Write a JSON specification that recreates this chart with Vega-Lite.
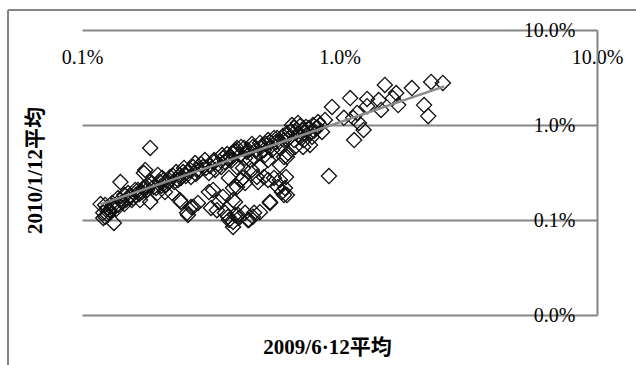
{
  "$schema": "https://vega.github.io/schema/vega-lite/v6.json",
  "autosize": {"type": "none"},
  "padding": {"left": 82, "top": 30, "right": 39, "bottom": 50},
  "width": 515,
  "height": 285,
  "background": "white",
  "config": {"view": {"stroke": null}},
  "datasets": {
    "pts": [
      {"avg2009": 0.0252, "avg2010": 0.0277}, {"avg2009": 0.0227, "avg2010": 0.0284}, {"avg2009": 0.0191, "avg2010": 0.0245},
      {"avg2009": 0.0150, "avg2010": 0.0264}, {"avg2009": 0.0166, "avg2010": 0.0217}, {"avg2009": 0.0161, "avg2010": 0.0192},
      {"avg2009": 0.0142, "avg2010": 0.0183}, {"avg2009": 0.0128, "avg2010": 0.0188}, {"avg2009": 0.0110, "avg2010": 0.0192},
      {"avg2009": 0.00935, "avg2010": 0.0155}, {"avg2009": 0.0213, "avg2010": 0.0162}, {"avg2009": 0.0221, "avg2010": 0.0124},
      {"avg2009": 0.0169, "avg2010": 0.0162}, {"avg2009": 0.0145, "avg2010": 0.0144}, {"avg2009": 0.0128, "avg2010": 0.0158},
      {"avg2009": 0.0104, "avg2010": 0.0119}, {"avg2009": 0.0117, "avg2010": 0.0134}, {"avg2009": 0.0113, "avg2010": 0.0119},
      {"avg2009": 0.0119, "avg2010": 0.0105}, {"avg2009": 0.0124, "avg2010": 0.00886}, {"avg2009": 0.0114, "avg2010": 0.00695},
      {"avg2009": 0.00910, "avg2010": 0.00290},
      {"avg2009": 0.00840, "avg2010": 0.0100}, {"avg2009": 0.00811, "avg2010": 0.00930}, {"avg2009": 0.00768, "avg2010": 0.00824},
      {"avg2009": 0.00715, "avg2010": 0.00886}, {"avg2009": 0.00654, "avg2010": 0.0100}, {"avg2009": 0.00690, "avg2010": 0.0105},
      {"avg2009": 0.00642, "avg2010": 0.00844}, {"avg2009": 0.00703, "avg2010": 0.00748}, {"avg2009": 0.00768, "avg2010": 0.00616},
      {"avg2009": 0.00672, "avg2010": 0.00587}, {"avg2009": 0.00609, "avg2010": 0.00695}, {"avg2009": 0.00587, "avg2010": 0.00573},
      {"avg2009": 0.00631, "avg2010": 0.00507}, {"avg2009": 0.00728, "avg2010": 0.00695}, {"avg2009": 0.00878, "avg2010": 0.0113},
      {"avg2009": 0.00855, "avg2010": 0.00844}, {"avg2009": 0.00782, "avg2010": 0.00748}, {"avg2009": 0.00741, "avg2010": 0.00953},
      {"avg2009": 0.00672, "avg2010": 0.00844},
      {"avg2009": 0.00567, "avg2010": 0.00662}, {"avg2009": 0.00537, "avg2010": 0.00587}, {"avg2009": 0.00509, "avg2010": 0.00546},
      {"avg2009": 0.00491, "avg2010": 0.00507}, {"avg2009": 0.00466, "avg2010": 0.00460}, {"avg2009": 0.00430, "avg2010": 0.00449},
      {"avg2009": 0.00415, "avg2010": 0.00587}, {"avg2009": 0.00393, "avg2010": 0.00520}, {"avg2009": 0.00379, "avg2010": 0.00460},
      {"avg2009": 0.00359, "avg2010": 0.00408}, {"avg2009": 0.00347, "avg2010": 0.00361}, {"avg2009": 0.00329, "avg2010": 0.00336},
      {"avg2009": 0.00311, "avg2010": 0.00312}, {"avg2009": 0.00295, "avg2010": 0.00361}, {"avg2009": 0.00275, "avg2010": 0.00398},
      {"avg2009": 0.00280, "avg2010": 0.00336}, {"avg2009": 0.00265, "avg2010": 0.00284}, {"avg2009": 0.00256, "avg2010": 0.00320},
      {"avg2009": 0.00242, "avg2010": 0.00277}, {"avg2009": 0.00228, "avg2010": 0.00251}, {"avg2009": 0.00220, "avg2010": 0.00284},
      {"avg2009": 0.00212, "avg2010": 0.00234}, {"avg2009": 0.00201, "avg2010": 0.00251}, {"avg2009": 0.00190, "avg2010": 0.00223},
      {"avg2009": 0.00184, "avg2010": 0.00573}, {"avg2009": 0.00174, "avg2010": 0.00312}, {"avg2009": 0.00180, "avg2010": 0.00234},
      {"avg2009": 0.00171, "avg2010": 0.00197}, {"avg2009": 0.00162, "avg2010": 0.00183}, {"avg2009": 0.00154, "avg2010": 0.00175},
      {"avg2009": 0.00148, "avg2010": 0.00162}, {"avg2009": 0.00141, "avg2010": 0.00251}, {"avg2009": 0.00143, "avg2010": 0.00155},
      {"avg2009": 0.00138, "avg2010": 0.00144}, {"avg2009": 0.00133, "avg2010": 0.00134}, {"avg2009": 0.00128, "avg2010": 0.00127},
      {"avg2009": 0.00121, "avg2010": 0.00119}, {"avg2009": 0.00118, "avg2010": 0.00147}, {"avg2009": 0.00121, "avg2010": 0.00105},
      {"avg2009": 0.00133, "avg2010": 0.000930}, {"avg2009": 0.00126, "avg2010": 0.00113},
      {"avg2009": 0.00256, "avg2010": 0.00119}, {"avg2009": 0.00242, "avg2010": 0.00155}, {"avg2009": 0.00265, "avg2010": 0.00137},
      {"avg2009": 0.00317, "avg2010": 0.00134}, {"avg2009": 0.00311, "avg2010": 0.00197}, {"avg2009": 0.00340, "avg2010": 0.00155},
      {"avg2009": 0.00359, "avg2010": 0.00119}, {"avg2009": 0.00372, "avg2010": 0.00100}, {"avg2009": 0.00386, "avg2010": 0.000844},
      {"avg2009": 0.00393, "avg2010": 0.00113}, {"avg2009": 0.00407, "avg2010": 0.00105}, {"avg2009": 0.00430, "avg2010": 0.00119},
      {"avg2009": 0.00445, "avg2010": 0.00100}, {"avg2009": 0.00466, "avg2010": 0.00119}, {"avg2009": 0.00393, "avg2010": 0.00155},
      {"avg2009": 0.00386, "avg2010": 0.00217}, {"avg2009": 0.00372, "avg2010": 0.00277}, {"avg2009": 0.00415, "avg2010": 0.00264},
      {"avg2009": 0.00430, "avg2010": 0.00245}, {"avg2009": 0.00483, "avg2010": 0.00251}, {"avg2009": 0.00509, "avg2010": 0.00284},
      {"avg2009": 0.00528, "avg2010": 0.00264}, {"avg2009": 0.00557, "avg2010": 0.00277}, {"avg2009": 0.00587, "avg2010": 0.00264},
      {"avg2009": 0.00620, "avg2010": 0.00284}, {"avg2009": 0.00577, "avg2010": 0.00223}, {"avg2009": 0.00598, "avg2010": 0.00197},
      {"avg2009": 0.00609, "avg2010": 0.00183}, {"avg2009": 0.00537, "avg2010": 0.00155}, {"avg2009": 0.00491, "avg2010": 0.00361},
      {"avg2009": 0.00457, "avg2010": 0.00336}, {"avg2009": 0.00422, "avg2010": 0.00353}, {"avg2009": 0.00400, "avg2010": 0.00361},
      {"avg2009": 0.00528, "avg2010": 0.00428}, {"avg2009": 0.00609, "avg2010": 0.00460},
      {"avg2009": 0.00176, "avg2010": 0.00336}, {"avg2009": 0.00197, "avg2010": 0.00298}, {"avg2009": 0.00240, "avg2010": 0.00298},
      {"avg2009": 0.00270, "avg2010": 0.00361}, {"avg2009": 0.00287, "avg2010": 0.00336}, {"avg2009": 0.00323, "avg2010": 0.00207},
      {"avg2009": 0.00334, "avg2010": 0.00127}, {"avg2009": 0.00258, "avg2010": 0.00113}, {"avg2009": 0.00270, "avg2010": 0.00137},
      {"avg2009": 0.00282, "avg2010": 0.00151}, {"avg2009": 0.00240, "avg2010": 0.00162}, {"avg2009": 0.00224, "avg2010": 0.00192},
      {"avg2009": 0.00210, "avg2010": 0.00197}, {"avg2009": 0.00196, "avg2010": 0.00192}, {"avg2009": 0.00184, "avg2010": 0.00155},
      {"avg2009": 0.00168, "avg2010": 0.00162}, {"avg2009": 0.00158, "avg2010": 0.00170}, {"avg2009": 0.00123, "avg2010": 0.00108},
      {"avg2009": 0.00386, "avg2010": 0.00507}, {"avg2009": 0.00400, "avg2010": 0.00573}, {"avg2009": 0.00369, "avg2010": 0.00449},
      {"avg2009": 0.00437, "avg2010": 0.00520}, {"avg2009": 0.00461, "avg2010": 0.00587}, {"avg2009": 0.00491, "avg2010": 0.00647},
      {"avg2009": 0.00528, "avg2010": 0.00695}, {"avg2009": 0.00572, "avg2010": 0.00730}, {"avg2009": 0.00625, "avg2010": 0.00824},
      {"avg2009": 0.00789, "avg2010": 0.0100}, {"avg2009": 0.00422, "avg2010": 0.00277}, {"avg2009": 0.00478, "avg2010": 0.00284},
      {"avg2009": 0.00614, "avg2010": 0.00217}, {"avg2009": 0.00625, "avg2010": 0.00183}, {"avg2009": 0.00537, "avg2010": 0.00151},
      {"avg2009": 0.00400, "avg2010": 0.00223}, {"avg2009": 0.00386, "avg2010": 0.00162}, {"avg2009": 0.00353, "avg2010": 0.00175},
      {"avg2009": 0.00369, "avg2010": 0.00108}, {"avg2009": 0.00386, "avg2010": 0.000953}, {"avg2009": 0.00404, "avg2010": 0.00113},
      {"avg2009": 0.00461, "avg2010": 0.00108}, {"avg2009": 0.00491, "avg2010": 0.00121}, {"avg2009": 0.00441, "avg2010": 0.00100},
      {"avg2009": 0.00587, "avg2010": 0.00379}, {"avg2009": 0.00625, "avg2010": 0.00460}, {"avg2009": 0.00722, "avg2010": 0.00587},
      {"avg2009": 0.00125, "avg2010": 0.00134}, {"avg2009": 0.00131, "avg2010": 0.00151}, {"avg2009": 0.00138, "avg2010": 0.00170},
      {"avg2009": 0.00146, "avg2010": 0.00183}, {"avg2009": 0.00151, "avg2010": 0.00192}, {"avg2009": 0.00165, "avg2010": 0.00207},
      {"avg2009": 0.00177, "avg2010": 0.00223}, {"avg2009": 0.00205, "avg2010": 0.00277}, {"avg2009": 0.00232, "avg2010": 0.00320},
      {"avg2009": 0.00249, "avg2010": 0.00353}, {"avg2009": 0.00300, "avg2010": 0.00428}, {"avg2009": 0.00326, "avg2010": 0.00408},
      {"avg2009": 0.00350, "avg2010": 0.00483}, {"avg2009": 0.00449, "avg2010": 0.00428}, {"avg2009": 0.00514, "avg2010": 0.00483},
      {"avg2009": 0.00547, "avg2010": 0.00546}, {"avg2009": 0.00666, "avg2010": 0.00695}, {"avg2009": 0.00690, "avg2010": 0.00785},
      {"avg2009": 0.00123, "avg2010": 0.00144}, {"avg2009": 0.00127, "avg2010": 0.00121}, {"avg2009": 0.00131, "avg2010": 0.00140},
      {"avg2009": 0.00136, "avg2010": 0.00131}, {"avg2009": 0.00141, "avg2010": 0.00162}, {"avg2009": 0.00146, "avg2010": 0.00147},
      {"avg2009": 0.00150, "avg2010": 0.00170}, {"avg2009": 0.00156, "avg2010": 0.00162}, {"avg2009": 0.00161, "avg2010": 0.00207},
      {"avg2009": 0.00167, "avg2010": 0.00188}, {"avg2009": 0.00173, "avg2010": 0.00217}, {"avg2009": 0.00179, "avg2010": 0.00207},
      {"avg2009": 0.00187, "avg2010": 0.00245}, {"avg2009": 0.00194, "avg2010": 0.00217}, {"avg2009": 0.00203, "avg2010": 0.00228},
      {"avg2009": 0.00208, "avg2010": 0.00264}, {"avg2009": 0.00216, "avg2010": 0.00251}, {"avg2009": 0.00226, "avg2010": 0.00290},
      {"avg2009": 0.00236, "avg2010": 0.00264}, {"avg2009": 0.00247, "avg2010": 0.00320}, {"avg2009": 0.00253, "avg2010": 0.00290},
      {"avg2009": 0.00263, "avg2010": 0.00336}, {"avg2009": 0.00277, "avg2010": 0.00305}, {"avg2009": 0.00290, "avg2010": 0.00389},
      {"avg2009": 0.00303, "avg2010": 0.00353}, {"avg2009": 0.00314, "avg2010": 0.00370}, {"avg2009": 0.00326, "avg2010": 0.00428},
      {"avg2009": 0.00337, "avg2010": 0.00389}, {"avg2009": 0.00353, "avg2010": 0.00449}, {"avg2009": 0.00366, "avg2010": 0.00495},
      {"avg2009": 0.00382, "avg2010": 0.00428}, {"avg2009": 0.00396, "avg2010": 0.00546}, {"avg2009": 0.00411, "avg2010": 0.00483},
      {"avg2009": 0.00426, "avg2010": 0.00573}, {"avg2009": 0.00441, "avg2010": 0.00546}, {"avg2009": 0.00457, "avg2010": 0.00631},
      {"avg2009": 0.00474, "avg2010": 0.00546}, {"avg2009": 0.00500, "avg2010": 0.00601}, {"avg2009": 0.00518, "avg2010": 0.00631},
      {"avg2009": 0.00537, "avg2010": 0.00662}, {"avg2009": 0.00557, "avg2010": 0.00730}, {"avg2009": 0.00582, "avg2010": 0.00662},
      {"avg2009": 0.00603, "avg2010": 0.00766}, {"avg2009": 0.00637, "avg2010": 0.00730}, {"avg2009": 0.00666, "avg2010": 0.00930},
      {"avg2009": 0.00703, "avg2010": 0.00976}, {"avg2009": 0.00734, "avg2010": 0.00824}, {"avg2009": 0.00761, "avg2010": 0.00930},
      {"avg2009": 0.00796, "avg2010": 0.00865}, {"avg2009": 0.00825, "avg2010": 0.01075}
    ],
    "trend": [
      {"avg2009": 0.00118, "avg2010": 0.00146},
      {"avg2009": 0.0255, "avg2010": 0.0255}
    ]
  },
  "layer": [
    {
      "data": {"values": [{}]},
      "mark": {"type": "rule", "color": "#858585", "strokeWidth": 2, "clip": false},
      "encoding": {
        "x": {"datum": 0.000516, "type": "quantitative"},
        "y": {"datum": 0.1623, "type": "quantitative"},
        "y2": {"datum": 0.0000264}
      }
    },
    {
      "data": {"values": [{}]},
      "mark": {"type": "rule", "color": "#858585", "strokeWidth": 2, "clip": false},
      "encoding": {
        "x": {"datum": 0.000516, "type": "quantitative"},
        "x2": {"datum": 0.147},
        "y": {"datum": 0.1623, "type": "quantitative"}
      }
    },
    {
      "data": {"name": "pts"},
      "mark": {"type": "point", "shape": "diamond", "filled": false, "size": 230, "stroke": "#111111", "strokeWidth": 1.3, "opacity": 1},
      "encoding": {
        "x": {
          "field": "avg2009", "type": "quantitative",
          "scale": {"type": "log", "domain": [0.001, 0.1], "nice": false, "zero": false},
          "axis": {
            "orient": "top", "values": [0.001, 0.01, 0.1], "format": ".1%",
            "domain": false, "ticks": false, "tickSize": 0, "grid": false,
            "labelPadding": -27, "labelBaseline": "middle", "labelFlush": false, "labelOverlap": false,
            "labelFont": "Liberation Serif", "labelFontSize": 20, "labelColor": "#000000",
            "title": "2009/6·12平均", "titleFont": "Liberation Serif, Noto Sans CJK JP", "titleFontSize": 21,
            "titleFontWeight": "bold", "titleColor": "#000000",
            "titleX": 245, "titleY": 317, "titleAlign": "center", "titleBaseline": "middle", "titleAngle": 0
          }
        },
        "y": {
          "field": "avg2010", "type": "quantitative",
          "scale": {"type": "log", "domain": [0.0001, 0.1], "nice": false, "zero": false},
          "axis": {
            "orient": "right", "values": [0.0001, 0.001, 0.01, 0.1], "format": ".1%",
            "domain": true, "domainColor": "#858585", "domainWidth": 2,
            "ticks": false, "tickSize": 0,
            "grid": true, "gridColor": "#858585", "gridWidth": 2, "gridOpacity": 1,
            "labelPadding": -22, "labelAlign": "right", "labelBaseline": "middle", "labelFlush": false, "labelOverlap": false,
            "labelFont": "Liberation Serif", "labelFontSize": 20, "labelColor": "#000000",
            "title": "2010/1/12平均", "titleFont": "Liberation Serif, Noto Sans CJK JP", "titleFontSize": 21,
            "titleFontWeight": "bold", "titleColor": "#000000",
            "titleX": -562, "titleY": 140, "titleAngle": 270, "titleAlign": "center", "titleBaseline": "middle"
          }
        }
      }
    },
    {
      "data": {"name": "trend"},
      "mark": {"type": "line", "color": "#8a8a8a", "strokeWidth": 2.5},
      "encoding": {
        "x": {"field": "avg2009", "type": "quantitative"},
        "y": {"field": "avg2010", "type": "quantitative"}
      }
    }
  ]
}
